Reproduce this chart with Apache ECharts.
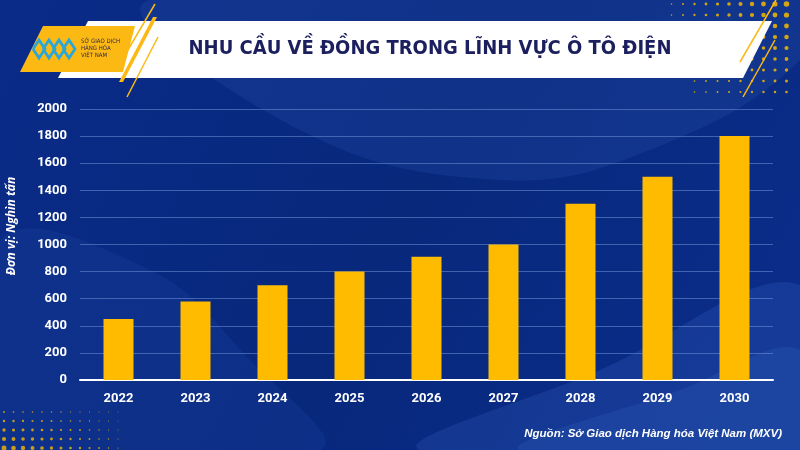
<!DOCTYPE html>
<html><head><meta charset="utf-8">
<script src="https://cdn.jsdelivr.net/npm/echarts@6/dist/echarts.min.js"></script>
<style>html,body{margin:0;padding:0;background:#0a2a7c}#c{width:800px;height:450px}</style>
</head><body><div id="c"></div>
<script>
const categories = ['2022','2023','2024','2025','2026','2027','2028','2029','2030'];
const demand = [450, 580, 700, 800, 910, 1000, 1300, 1500, 1800];
const title = 'NHU CẦU VỀ ĐỒNG TRONG LĨNH VỰC Ô TÔ ĐIỆN';
const unitLabel = 'Đơn vị: Nghìn tấn';
const sourceText = 'Nguồn: Sở Giao dịch Hàng hóa Việt Nam (MXV)';

const chart = echarts.init(document.getElementById('c'));
const g = [];
// background
g.push({type:'rect', z:-10, shape:{x:0,y:0,width:800,height:450},
  style:{fill:new echarts.graphic.LinearGradient(0,0,1,1,[{offset:0,color:'#0a2b88'},{offset:0.5,color:'#08287c'},{offset:1,color:'#0b2e8c'}])}});
// soft waves
g.push({type:'polygon', z:-9, shape:{smooth:0.4, points:[[150,0],[300,130],[500,180],[650,150],[800,60],[800,0]]}, style:{fill:'rgba(40,80,170,0.28)'}});
g.push({type:'polygon', z:-9, shape:{smooth:0.4, points:[[0,240],[150,270],[250,360],[320,450],[0,450]]}, style:{fill:'rgba(30,70,160,0.28)'}});
g.push({type:'polygon', z:-9, shape:{smooth:0.4, points:[[420,450],[600,370],[800,285],[800,450]]}, style:{fill:'rgba(50,95,190,0.28)'}});
g.push({type:'polygon', z:-9, shape:{smooth:0.4, points:[[520,450],[680,390],[800,350],[800,450]]}, style:{fill:'rgba(60,110,200,0.2)'}});
// dots top right
for (let r=0;r<9;r++){ for(let c=0;c<12;c++){ const x=660+c*11.5, y=4+r*11; if (x<665+r*3) continue;
  const t=c/11; g.push({type:'circle', z:-8, shape:{cx:x,cy:y,r:0.6+t*2.2*(1-r/12)}, style:{fill:'#f5b800', opacity:0.85}}); } }
// dots bottom left
for (let r=0;r<5;r++){ for(let c=0;c<13;c++){ const x=4+c*9.5, y=412+r*9;
  const t=1-c/13; g.push({type:'circle', z:-8, shape:{cx:x,cy:y,r:0.4+t*1.6*(r/4+0.3)}, style:{fill:'#f5b800', opacity:0.8}}); } }
// white banner
g.push({type:'polygon', z:-5, shape:{points:[[88,21],[772,21],[743,78],[58,78]]}, style:{fill:'#ffffff'}});
// yellow logo box
g.push({type:'polygon', z:-4, shape:{points:[[43,26],[135,26],[123,72],[20,72]]}, style:{fill:'#fdb913'}});
// logo mark
for (let i=0;i<4;i++){ g.push({type:'polyline', z:-3, shape:{points:[[33+i*10,49],[39+i*10,40],[45+i*10,49],[39+i*10,58],[33+i*10,49]]}, style:{stroke:'#2aa7d8', lineWidth:2.8, fill:null}}); }
g.push({type:'text', z:-3, style:{text:'SỞ GIAO DỊCH\nHÀNG HÓA\nVIỆT NAM', x:81, y:38, fill:'#2a2a50', font:'6px "DejaVu Sans Condensed"', lineHeight:7}});
// yellow stripes left
g.push({type:'line', z:-4, shape:{x1:155,y1:4,x2:122,y2:60}, style:{stroke:'#fdb913', lineWidth:1.5}});
g.push({type:'polygon', z:-4, shape:{points:[[153,17],[157,17],[123,82],[119,82]]}, style:{fill:'#fdb913'}});
g.push({type:'line', z:-4, shape:{x1:158,y1:37,x2:127,y2:97}, style:{stroke:'#fdb913', lineWidth:1.5}});
// yellow stripes right
g.push({type:'line', z:-4, shape:{x1:776,y1:0,x2:740,y2:62}, style:{stroke:'#fdb913', lineWidth:1.5}});
g.push({type:'line', z:-4, shape:{x1:775,y1:40,x2:743,y2:97}, style:{stroke:'#fdb913', lineWidth:1.5}});
// title
g.push({type:'text', z:1, style:{text:title, x:430, y:49, align:'center', verticalAlign:'middle', fill:'#1b1f5e', font:'bold 20px "DejaVu Sans Condensed"'}});
// unit label
g.push({type:'text', z:1, x:12, y:226, rotation:Math.PI/2, style:{text:unitLabel, x:0, y:0, align:'center', verticalAlign:'middle', fill:'#ffffff', font:'italic bold 12px "Open Sans"'}});
// source
g.push({type:'text', z:1, style:{text:sourceText, x:782, y:434, align:'right', verticalAlign:'middle', fill:'#ffffff', font:'italic bold 11.5px "Liberation Sans"'}});

chart.setOption({
  animation:false,
  graphic:g,
  grid:{left:80, right:27, top:109, bottom:70, containLabel:false},
  xAxis:{type:'category', data:categories,
    axisLine:{lineStyle:{color:'#ffffff', width:2}}, axisTick:{show:false},
    axisLabel:{color:'#ffffff', fontWeight:'bold', fontSize:13, margin:12, fontFamily:'Roboto'}},
  yAxis:{type:'value', min:0, max:2000, interval:200,
    axisLine:{show:false}, axisTick:{show:false},
    axisLabel:{color:'#ffffff', fontWeight:'bold', fontSize:13, margin:13, fontFamily:'Roboto', formatter:v=>String(v)},
    splitLine:{lineStyle:{color:'rgba(110,145,215,0.55)', width:1}}},
  series:[{type:'bar', data:demand, barWidth:30, itemStyle:{color:'#ffbb00'}}]
});
</script></body></html>
